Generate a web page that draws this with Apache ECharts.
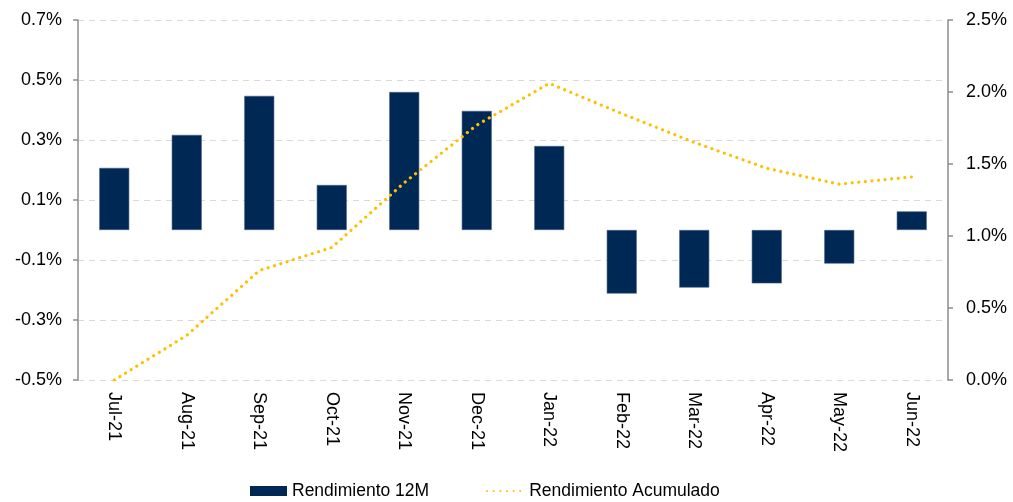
<!DOCTYPE html>
<html>
<head>
<meta charset="utf-8">
<script src="https://cdn.jsdelivr.net/npm/echarts@6/dist/echarts.min.js"></script>
<style>
  html, body { margin: 0; padding: 0; background: #ffffff; }
  #chart { width: 1013px; height: 502px; }
</style>
</head>
<body>
<div id="chart"></div>
<script>
// Month labels along the bottom axis
const months = ['Jul-21', 'Aug-21', 'Sep-21', 'Oct-21', 'Nov-21', 'Dec-21',
                'Jan-22', 'Feb-22', 'Mar-22', 'Apr-22', 'May-22', 'Jun-22'];

// Monthly 12M return, in percent (left axis)
const rendimiento12M = [0.207, 0.317, 0.447, 0.150, 0.460, 0.397,
                        0.280, -0.212, -0.192, -0.178, -0.112, 0.062];

// Cumulative return, in percent (right axis)
const rendimientoAcumulado = [0.00, 0.31, 0.76, 0.92, 1.37, 1.77,
                              2.06, 1.85, 1.65, 1.47, 1.36, 1.41];

// Axis ranges
const leftAxisRange = [-0.5, 0.7, 0.2];
const rightAxisRange = [0.0, 2.5, 0.5];

const font = 'Liberation Sans, Arial, sans-serif';
const navy = '#002855';
const gold = '#FFC000';

const chart = echarts.init(document.getElementById('chart'));

chart.setOption({
  animation: false,
  backgroundColor: '#ffffff',
  textStyle: { fontFamily: font },
  grid: { left: 78, right: 65, top: 20, bottom: 122, containLabel: false },
  legend: {
    left: 245,
    top: 477,
    itemGap: 57,
    itemWidth: 37,
    itemHeight: 10,
    textStyle: { fontFamily: font, fontSize: 17.5, color: '#000000' },
    data: [
      { name: 'Rendimiento 12M', icon: 'rect', itemStyle: { color: navy, borderWidth: 0 } },
      { name: 'Rendimiento Acumulado', itemStyle: { color: 'rgba(0,0,0,0)', borderWidth: 0 } }
    ]
  },
  xAxis: {
    type: 'category',
    data: months,
    axisLine: { show: false },
    axisTick: { show: false },
    axisLabel: {
      rotate: -90,
      margin: 12,
      fontSize: 18,
      color: '#000000',
      fontFamily: font
    }
  },
  yAxis: [
    {
      type: 'value',
      position: 'left',
      min: leftAxisRange[0],
      max: leftAxisRange[1],
      interval: leftAxisRange[2],
      axisLine: { show: true, lineStyle: { color: '#8c8c8c', width: 1.5 } },
      axisTick: { show: true, length: 5, lineStyle: { color: '#8c8c8c', width: 1.5 } },
      axisLabel: {
        margin: 16,
        fontSize: 18,
        color: '#000000',
        fontFamily: font,
        formatter: v => v.toFixed(1) + '%'
      },
      splitLine: { show: true, lineStyle: { color: '#d9d9d9', type: [6, 5], width: 1 } }
    },
    {
      type: 'value',
      position: 'right',
      min: rightAxisRange[0],
      max: rightAxisRange[1],
      interval: rightAxisRange[2],
      axisLine: { show: true, lineStyle: { color: '#8c8c8c', width: 1.5 } },
      axisTick: { show: true, length: 5, lineStyle: { color: '#8c8c8c', width: 1.5 } },
      axisLabel: {
        margin: 18,
        fontSize: 18,
        color: '#000000',
        fontFamily: font,
        formatter: v => v.toFixed(1) + '%'
      },
      splitLine: { show: false }
    }
  ],
  series: [
    {
      name: 'Rendimiento 12M',
      type: 'bar',
      yAxisIndex: 0,
      data: rendimiento12M,
      barWidth: 30,
      itemStyle: { color: navy, borderColor: '#4a6285', borderWidth: 0.6 }
    },
    {
      name: 'Rendimiento Acumulado',
      type: 'line',
      yAxisIndex: 1,
      data: rendimientoAcumulado,
      symbol: 'none',
      lineStyle: { color: gold, width: 3.2, type: [0.01, 6.6], cap: 'round' },
      itemStyle: { color: gold },
      z: 5
    }
  ]
});
</script>
</body>
</html>
